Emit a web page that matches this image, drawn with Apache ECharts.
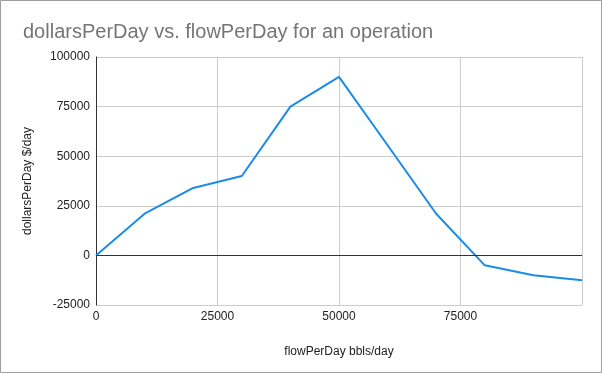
<!DOCTYPE html>
<html><head><meta charset="utf-8">
<script src="https://cdn.jsdelivr.net/npm/echarts@6/dist/echarts.min.js"></script>
<style>html,body{margin:0;padding:0;background:#fff}#c{width:602px;height:373px}</style>
</head><body><div id="c"></div>
<script>
const flowPerDay = [0, 10000, 20000, 30000, 40000, 50000, 60000, 70000, 80000, 90000, 100000];
const dollarsPerDay = [0, 21000, 34000, 40000, 75000, 90000, 55500, 21000, -5000, -10000, -12500];
const xTicks = [0, 25000, 50000, 75000];
const yTicks = [-25000, 0, 25000, 50000, 75000, 100000];

const chart = echarts.init(document.getElementById('c'), null, {renderer: 'canvas'});
const font = 'Liberation Sans, Arial, sans-serif';
chart.setOption({
  animation: false,
  title: {
    text: 'dollarsPerDay vs. flowPerDay for an operation',
    left: 18, top: 17,
    textStyle: {fontFamily: font, fontSize: 20, fontWeight: 'normal', color: '#757575'}
  },
  graphic: [{type: 'rect', shape: {x: 0.5, y: 0.5, width: 601, height: 372},
    style: {fill: 'none', stroke: '#9e9e9e', lineWidth: 1}, z: 100}],
  grid: {left: 96, right: 20, top: 57, bottom: 68},
  xAxis: {
    type: 'value', min: 0, max: 100000, interval: 25000,
    name: 'flowPerDay bbls/day', nameLocation: 'middle', nameGap: 41,
    nameTextStyle: {fontFamily: font, fontSize: 12, color: '#222'},
    axisLine: {show: false}, axisTick: {show: false},
    axisLabel: {fontFamily: font, fontSize: 12, color: '#222', margin: 6,
      formatter: v => xTicks.includes(v) ? String(v) : ''},
    splitLine: {show: true, lineStyle: {color: '#cccccc', width: 1}}
  },
  yAxis: {
    type: 'value', min: -25000, max: 100000, interval: 25000,
    name: 'dollarsPerDay $/day', nameLocation: 'middle', nameGap: 62,
    nameTextStyle: {fontFamily: font, fontSize: 12, color: '#222'},
    axisLine: {show: true, onZero: false, lineStyle: {color: '#333', width: 1}},
    axisTick: {show: false},
    axisLabel: {fontFamily: font, fontSize: 12, color: '#222', margin: 6,
      formatter: v => yTicks.includes(v) ? String(v) : ''},
    splitLine: {show: true, lineStyle: {color: '#cccccc', width: 1}}
  },
  series: [{
    type: 'line',
    data: flowPerDay.map((x, i) => [x, dollarsPerDay[i]]),
    showSymbol: false, symbol: 'none',
    lineStyle: {color: '#1a8ce8', width: 2},
    markLine: {silent: true, symbol: 'none', label: {show: false},
      lineStyle: {color: '#333', width: 1, type: 'solid'},
      data: [{yAxis: 0}]}
  }]
});
</script></body></html>
